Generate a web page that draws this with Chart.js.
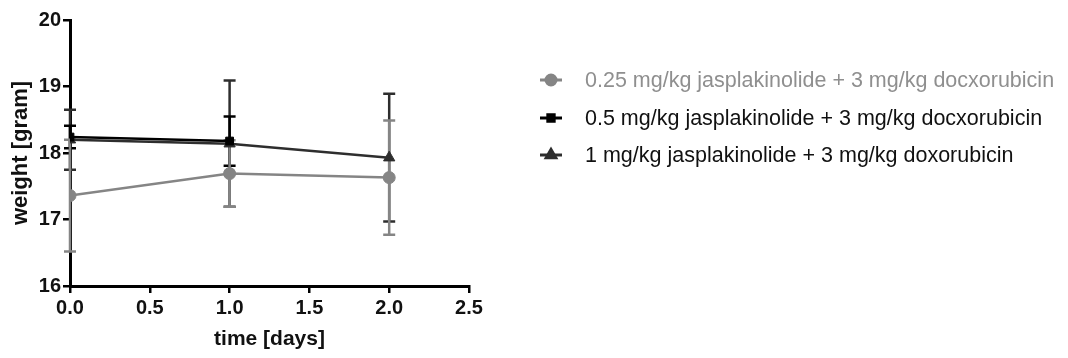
<!DOCTYPE html>
<html>
<head>
<meta charset="utf-8">
<script src="https://cdn.jsdelivr.net/npm/chart.js@4"></script>
<style>
html,body{margin:0;padding:0;background:#fff;}
#wrap{width:1068px;height:358px;position:relative;}
</style>
</head>
<body>
<div id="wrap"><canvas id="c"></canvas></div>
<script>
// ---- data ----
const timeDays = [0, 1, 2];
const seriesLabels = [
  '0.25 mg/kg jasplakinolide + 3 mg/kg docxorubicin',
  '0.5 mg/kg jasplakinolide + 3 mg/kg docxorubicin',
  '1 mg/kg jasplakinolide + 3 mg/kg doxorubicin'
];
const weightLow = [17.36, 17.69, 17.63];   // 0.25 mg/kg
const errLow = [0.84, 0.50, 0.86];
const weightMid = [18.24, 18.18, null];    // 0.5 mg/kg
const errMid = [0.17, 0.37, null];
const weightHigh = [18.20, 18.14, 17.93];  // 1 mg/kg
const errHigh = [0.45, 0.95, 0.96];
const yTicks = [16, 17, 18, 19, 20];
const xTicks = [0, 0.5, 1, 1.5, 2, 2.5];

const FONT = "'Liberation Sans', Arial, sans-serif";
const colors = ['#858585', '#000000', '#2e2e2e'];
const legendTextColors = ['#8f8f8f', '#111111', '#111111'];
const styles = ['circle', 'rect', 'triangle'];
const radii = [6, 5.5, 6.5];

function pts(vals) {
  return timeDays.map((t, i) => ({x: t, y: vals[i]})).filter(p => p.y !== null);
}
const allVals = [weightLow, weightMid, weightHigh];
const allErrs = [errLow, errMid, errHigh];

const errorBars = {
  id: 'errorBars',
  beforeDatasetsDraw(chart) {
    const ctx = chart.ctx;
    const xs = chart.scales.x, ys = chart.scales.y;
    ctx.save();
    [2, 1, 0].forEach(di => {
      const vals = allVals[di], errs = allErrs[di];
      ctx.strokeStyle = colors[di];
      ctx.lineWidth = 2.5;
      timeDays.forEach((t, i) => {
        if (vals[i] === null || errs[i] === null) return;
        const x = xs.getPixelForValue(t);
        const yTop = ys.getPixelForValue(vals[i] + errs[i]);
        const yBot = ys.getPixelForValue(vals[i] - errs[i]);
        ctx.beginPath();
        ctx.moveTo(x, yTop); ctx.lineTo(x, yBot);
        ctx.moveTo(x - 6, yTop); ctx.lineTo(x + 6, yTop);
        ctx.moveTo(x - 6, yBot); ctx.lineTo(x + 6, yBot);
        ctx.stroke();
      });
    });
    ctx.restore();
  }
};

const customLegend = {
  id: 'customLegend',
  afterDraw(chart) {
    const ctx = chart.ctx;
    ctx.save();
    const rows = [80, 118, 155];
    seriesLabels.forEach((lab, i) => {
      const y = rows[i];
      ctx.strokeStyle = colors[i];
      ctx.lineWidth = 3;
      ctx.beginPath();
      ctx.moveTo(540, y); ctx.lineTo(562, y);
      ctx.stroke();
      ctx.fillStyle = colors[i];
      Chart.helpers.drawPoint(ctx, {pointStyle: styles[i], radius: radii[i] - 1, borderWidth: 1, rotation: 0}, 551, y);
      ctx.fill();
      ctx.fillStyle = legendTextColors[i];
      ctx.font = '21.5px ' + FONT;
      ctx.textBaseline = 'middle';
      ctx.textAlign = 'left';
      ctx.fillText(lab, 585, y + 1);
    });
    ctx.restore();
  }
};

const datasets = [0, 1, 2].map(i => ({
  label: seriesLabels[i],
  data: pts(allVals[i]),
  borderColor: colors[i],
  backgroundColor: colors[i],
  pointBackgroundColor: colors[i],
  pointBorderColor: colors[i],
  pointStyle: styles[i],
  pointRadius: radii[i],
  pointBorderWidth: 1,
  borderWidth: 2.5,
  tension: 0,
  order: [3, 1, 2][i]
}));

new Chart(document.getElementById('c'), {
  type: 'line',
  data: {datasets},
  plugins: [errorBars, customLegend],
  options: {
    responsive: true,
    maintainAspectRatio: false,
    animation: false,
    layout: {padding: {left: 0, top: 20, right: 599, bottom: 0}},
    plugins: {legend: {display: false}, tooltip: {enabled: false}},
    scales: {
      x: {
        type: 'linear', min: 0, max: 2.5,
        afterBuildTicks(s) { s.ticks = xTicks.map(v => ({value: v})); },
        afterFit(s) { s.height = 72; },
        border: {color: '#000', width: 3},
        grid: {drawOnChartArea: false, drawTicks: true, tickLength: 7, color: '#000', lineWidth: 2.5},
        ticks: {color: '#111', padding: 3, font: {family: FONT, size: 20, weight: 'bold'},
                callback: v => Number(v).toFixed(1), maxRotation: 0},
        title: {display: true, text: 'time [days]', color: '#111',
                font: {family: FONT, size: 21, weight: 'bold'}, padding: {top: 0, bottom: 6}}
      },
      y: {
        type: 'linear', min: 16, max: 20,
        afterBuildTicks(s) { s.ticks = yTicks.map(v => ({value: v})); },
        afterFit(s) { s.width = 70; },
        border: {color: '#000', width: 3},
        grid: {drawOnChartArea: false, drawTicks: true, tickLength: 7, color: '#000', lineWidth: 2.5},
        ticks: {color: '#111', padding: 2, font: {family: FONT, size: 20, weight: 'bold'}},
        title: {display: true, text: 'weight [gram]', color: '#111',
                font: {family: FONT, size: 22, weight: 'bold'}, padding: {top: 8, bottom: 0}}
      }
    }
  }
});
</script>
</body>
</html>
